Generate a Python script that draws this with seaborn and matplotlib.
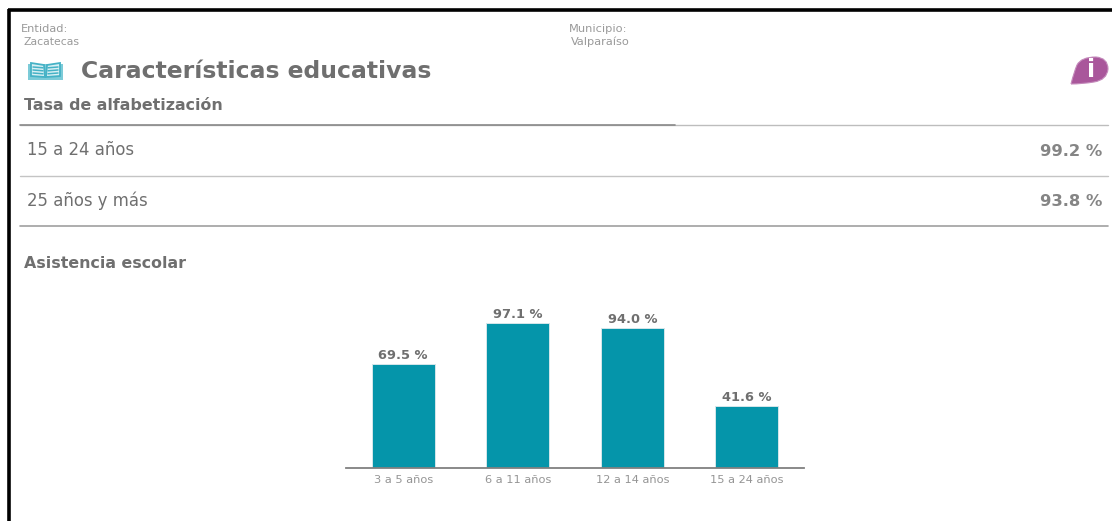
import matplotlib
matplotlib.use("Agg")
import matplotlib.pyplot as plt
from matplotlib.patches import PathPatch, Polygon, Rectangle
from matplotlib.path import Path
import pandas as pd
import seaborn as sns

# Asistencia escolar
age_groups = ["3 a 5 años", "6 a 11 años", "12 a 14 años", "15 a 24 años"]
attendance = [69.5, 97.1, 94.0, 41.6]

# Tasa de alfabetización
literacy_groups = ["15 a 24 años", "25 años y más"]
literacy_rates = [99.2, 93.8]

entity_label = "Entidad:"
entity_name = "Zacatecas"
municipality_label = "Municipio:"
municipality_name = "Valparaíso"

TEAL = "#0595AA"
GREY_TEXT = "#6F6F6F"
LIGHT_TEXT = "#9A9A9A"
W, H = 1112, 521

sns.set_theme(style="white", rc={"font.family": ["DejaVu Sans"]})
fig = plt.figure(figsize=(W / 100, H / 100), dpi=100, facecolor="white")

# Full-figure layer in pixel units for the header, rows and icons
page = fig.add_axes([0, 0, 1, 1])
page.set_xlim(0, W)
page.set_ylim(H, 0)
page.axis("off")

# Outer frame: only the top and left edges are visible
page.plot([8, W], [10, 10], color="black", lw=2.6, solid_capstyle="butt")
page.plot([9, 9], [9, H], color="black", lw=2.6, solid_capstyle="butt")

page.text(21, 29, entity_label, fontsize=8.2, color=LIGHT_TEXT, va="center")
page.text(23, 42, entity_name, fontsize=7.8, color=LIGHT_TEXT, va="center")
page.text(569, 29, municipality_label, fontsize=8.2, color=LIGHT_TEXT, va="center")
page.text(571, 42, municipality_name, fontsize=8.2, color=LIGHT_TEXT, va="center")

page.text(81, 71, "Características educativas", fontsize=16.9, fontweight="bold",
          color=GREY_TEXT, va="center")
page.text(24, 105, "Tasa de alfabetización", fontsize=11.4, fontweight="bold",
          color=GREY_TEXT, va="center")
page.text(24, 263, "Asistencia escolar", fontsize=11.4, fontweight="bold",
          color=GREY_TEXT, va="center")

# Open-book icon
page.add_patch(Rectangle((28, 64), 35, 16, fc="#7CCBD8", ec="none"))
page.add_patch(Polygon([[31, 63], [44, 65], [45, 77], [31, 76]], fc="#D9F0F4", ec="#45B2C6", lw=1.3))
page.add_patch(Polygon([[60, 63], [47, 65], [46, 77], [60, 76]], fc="#D9F0F4", ec="#45B2C6", lw=1.3))
for y in (67, 70, 73):
    page.plot([33, 43], [y, y + 0.8], color="#45B2C6", lw=1.1)
    page.plot([48, 58], [y + 0.8, y], color="#45B2C6", lw=1.1)

# Information badge
badge = Path(
    [(1071, 84), (1074, 72), (1077, 65), (1081, 57), (1096, 57),
     (1108, 58), (1108, 69), (1107, 80), (1094, 82), (1082, 84), (1071, 84)],
    [Path.MOVETO, Path.CURVE3, Path.CURVE3, Path.CURVE3, Path.CURVE3,
     Path.CURVE3, Path.CURVE3, Path.CURVE3, Path.CURVE3, Path.CURVE3, Path.CURVE3],
)
page.add_patch(PathPatch(badge, fc="#A9579B", ec="#C48ABB", lw=0.8))
page.text(1091, 70, "i", fontsize=17, fontweight="bold", color="white",
          ha="center", va="center")

# Literacy rows with their rules
page.plot([20, 1108], [125, 125], color="#BDBDBD", lw=1)
page.plot([20, 675], [125, 125], color="#8A8A8A", lw=1.2)
page.plot([20, 1108], [175.5, 175.5], color="#C4C4C4", lw=1)
page.plot([20, 1108], [226, 226], color="#A0A0A0", lw=1.2)
for y, group, rate in zip((150, 201), literacy_groups, literacy_rates):
    page.text(27, y, group, fontsize=11.9, color=GREY_TEXT, va="center")
    page.text(1102, y + 1, f"{rate:.1f} %", fontsize=11.8, fontweight="bold", color="#858585",
              ha="right", va="center")

# School attendance bars
baseline, plot_top = 468, 300
ax = fig.add_axes([346 / W, 1 - baseline / H, 458 / W, (baseline - plot_top) / H])
df = pd.DataFrame({"grupo": age_groups, "asistencia": attendance})
sns.barplot(data=df, x="grupo", y="asistencia", color=TEAL, saturation=1, width=0.55,
            edgecolor="#D5E6EA", linewidth=0.7, ax=ax)
ax.set_xlim(-0.5, 3.5)
ax.set_ylim(0, (baseline - plot_top) / 1.493)
ax.patch.set_alpha(0)
ax.set_xlabel("")
ax.set_ylabel("")
ax.set_yticks([])
ax.tick_params(axis="x", length=0, pad=5, labelsize=8.2, labelcolor="#959595")
for side in ("top", "left", "right"):
    ax.spines[side].set_visible(False)
ax.spines["bottom"].set_color("#808080")
ax.spines["bottom"].set_linewidth(1.3)
ax.bar_label(ax.containers[0], labels=[f"{v:.1f} %" for v in attendance], padding=1.5,
             fontsize=9.4, fontweight="bold", color=GREY_TEXT)

fig.savefig("out.png", dpi=100)
